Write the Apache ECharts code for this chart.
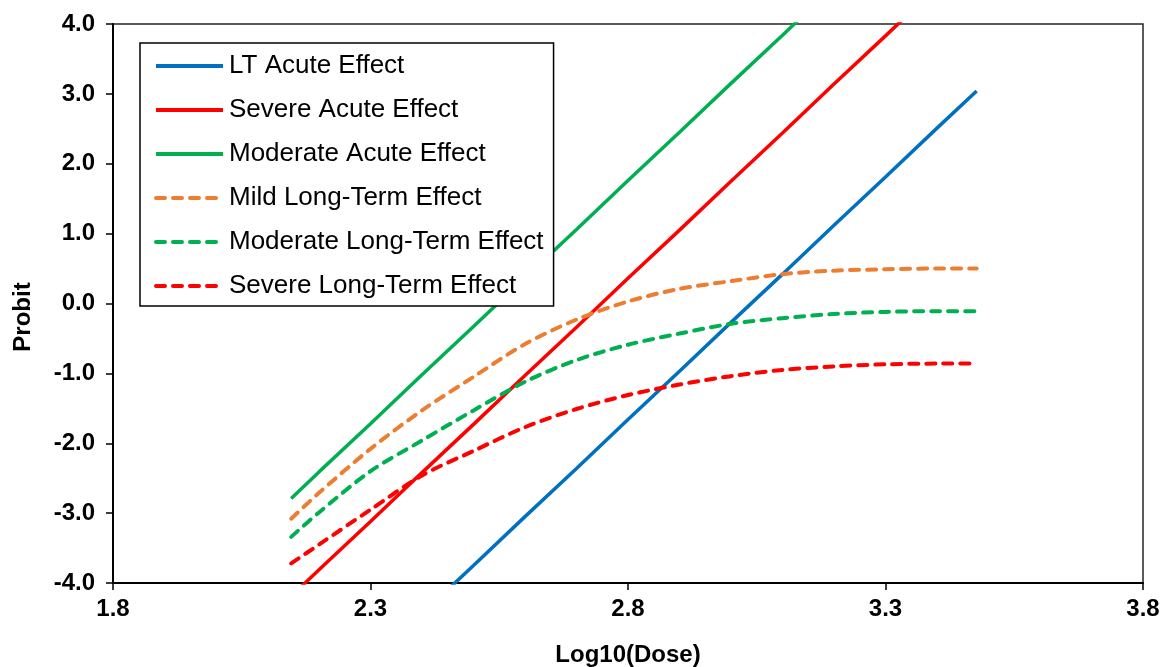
<!DOCTYPE html>
<html>
<head>
<meta charset="utf-8">
<script src="https://cdn.jsdelivr.net/npm/echarts@6/dist/echarts.min.js"></script>
<style>
  html, body { margin: 0; padding: 0; background: #fff; }
  #chart { width: 1163px; height: 667px; }
</style>
</head>
<body>
<div id="chart"></div>
<script>
// Log10 of dose for each computed point
const logDose = [2.146, 2.2, 2.3, 2.4, 2.5, 2.6, 2.7, 2.8, 2.9, 3.0, 3.1, 3.2, 3.3, 3.4, 3.477];

// Probit values per effect
const ltAcute          = [-6.21, -5.83, -5.14, -4.44, -3.75, -3.05, -2.36, -1.66, -0.97, -0.27, 0.42, 1.12, 1.81, 2.51, 3.04];
const severeAcute      = [-4.19, -3.81, -3.12, -2.42, -1.73, -1.03, -0.34, 0.36, 1.05, 1.75, 2.44, 3.14, 3.83, 4.53, 5.06];
const moderateAcute    = [-2.79, -2.41, -1.72, -1.02, -0.33, 0.37, 1.06, 1.76, 2.45, 3.15, 3.84, 4.54, 5.23, 5.93, 6.46];
const mildLongTerm     = [-3.08, -2.71, -2.08, -1.53, -1.05, -0.58, -0.23, 0.03, 0.21, 0.32, 0.42, 0.47, 0.49, 0.50, 0.50];
const moderateLongTerm = [-3.34, -2.99, -2.40, -1.96, -1.53, -1.12, -0.81, -0.59, -0.43, -0.29, -0.21, -0.15, -0.12, -0.11, -0.11];
const severeLongTerm   = [-3.72, -3.45, -2.95, -2.46, -2.11, -1.77, -1.51, -1.31, -1.16, -1.04, -0.95, -0.90, -0.87, -0.86, -0.86];

const xTicks = { min: 1.8, max: 3.8, step: 0.5 };
const yTicks = { min: -4, max: 4, step: 1 };

const FONT = "'Liberation Sans', Arial, sans-serif";

function pairs(ys) {
  return logDose.map((x, i) => [x, ys[i]]);
}

function solid(name, color, ys) {
  return {
    name, type: 'line', data: pairs(ys), symbol: 'none', smooth: false,
    clip: true,
    lineStyle: { color, width: 3.5 },
    itemStyle: { color }
  };
}

function dashed(name, color, ys) {
  return {
    name, type: 'line', data: pairs(ys), symbol: 'none', smooth: 0.3,
    clip: true,
    lineStyle: { color, width: 4, type: [9, 8], cap: 'round' },
    itemStyle: { color }
  };
}

const chart = echarts.init(document.getElementById('chart'), null, { renderer: 'canvas' });

chart.setOption({
  animation: false,
  backgroundColor: '#fff',
  grid: {
    left: 113, right: 20, top: 24, bottom: 84,
    containLabel: false, outerBoundsMode: 'none',
    show: true, borderColor: '#262626', borderWidth: 1.5, backgroundColor: 'transparent'
  },
  legend: {
    orient: 'vertical',
    left: 140, top: 43,
    padding: [8, 10, 5, 14],
    itemGap: 14,
    itemWidth: 67, itemHeight: 14,
    backgroundColor: '#fff',
    borderColor: '#000', borderWidth: 1.5,
    itemStyle: { opacity: 0 },
    lineStyle: { width: 4 },
    textStyle: { fontFamily: FONT, fontSize: 26, color: '#000', lineHeight: 30, padding: [0, 0, 0, 1] },
    data: [
      'LT Acute Effect', 'Severe Acute Effect', 'Moderate Acute Effect',
      'Mild Long-Term Effect', 'Moderate Long-Term Effect', 'Severe Long-Term Effect'
    ]
  },
  xAxis: {
    type: 'value',
    min: xTicks.min, max: xTicks.max, interval: xTicks.step,
    name: 'Log10(Dose)', nameLocation: 'middle', nameGap: 60,
    nameTextStyle: { fontFamily: FONT, fontSize: 24, fontWeight: 'bold', color: '#000' },
    axisLine: { show: true, onZero: false, lineStyle: { color: '#000', width: 2 } },
    axisTick: { show: true, inside: false, length: 7, lineStyle: { color: '#000', width: 1.5 } },
    axisLabel: {
      fontFamily: FONT, fontSize: 24, fontWeight: 'bold', color: '#000', margin: 14,
      formatter: v => v.toFixed(1)
    },
    splitLine: { show: false }
  },
  yAxis: {
    type: 'value',
    min: yTicks.min, max: yTicks.max, interval: yTicks.step,
    name: 'Probit', nameLocation: 'middle', nameGap: 78, nameRotate: 90,
    nameTextStyle: { fontFamily: FONT, fontSize: 24, fontWeight: 'bold', color: '#000', padding: [0, 27, 0, 0] },
    axisLine: { show: true, onZero: false, lineStyle: { color: '#000', width: 2 } },
    axisTick: { show: true, inside: false, length: 7, lineStyle: { color: '#000', width: 1.5 } },
    axisLabel: {
      fontFamily: FONT, fontSize: 24, fontWeight: 'bold', color: '#000', margin: 18,
      formatter: v => v.toFixed(1)
    },
    splitLine: { show: false }
  },
  series: [
    solid('LT Acute Effect', '#0070C0', ltAcute),
    solid('Severe Acute Effect', '#FF0000', severeAcute),
    solid('Moderate Acute Effect', '#00B050', moderateAcute),
    dashed('Mild Long-Term Effect', '#ED7D31', mildLongTerm),
    dashed('Moderate Long-Term Effect', '#00B050', moderateLongTerm),
    dashed('Severe Long-Term Effect', '#FF0000', severeLongTerm)
  ]
});
</script>
</body>
</html>
